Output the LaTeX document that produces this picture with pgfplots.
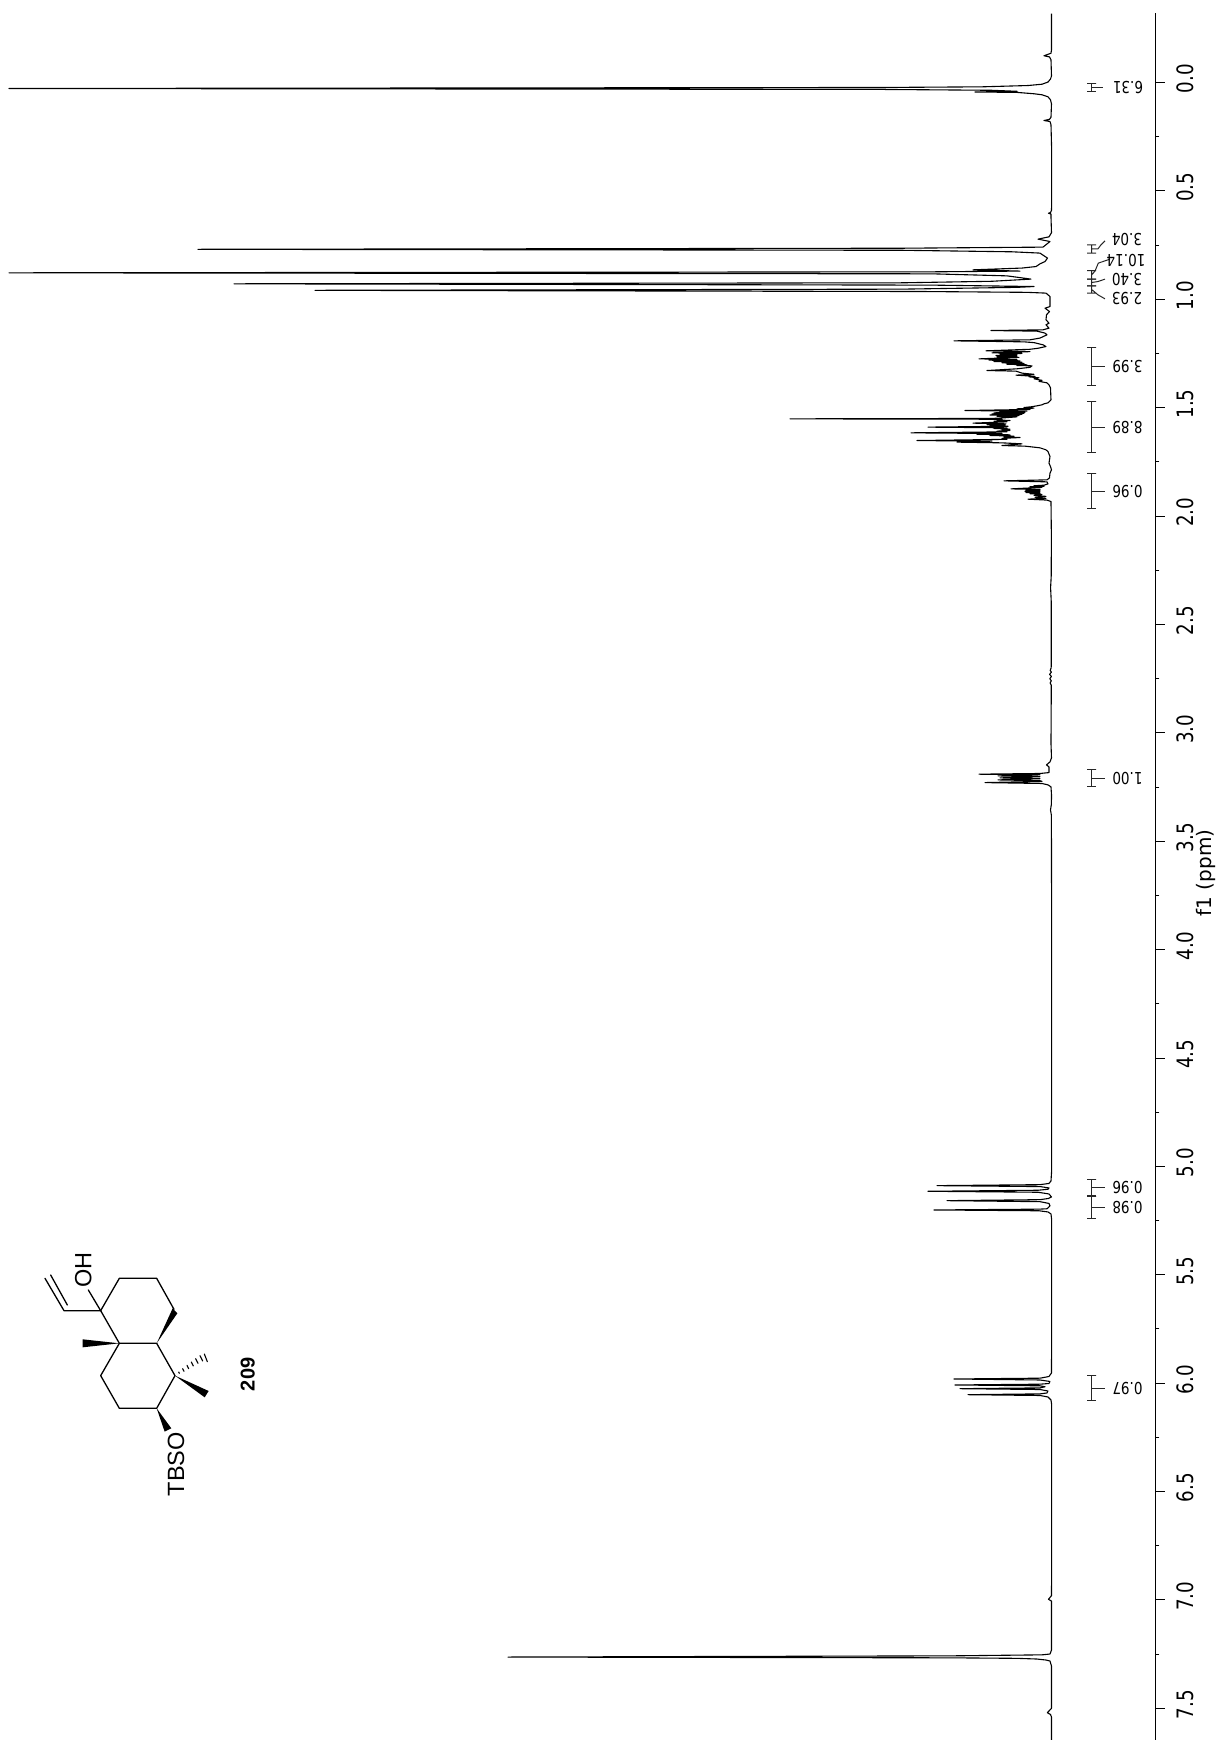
\documentclass[border=0pt]{standalone}
\usepackage{pgfplots}
\usepackage{pgfplotstable}
\usepackage{fontspec}
\pgfplotsset{compat=1.18}
\setmainfont{DejaVu Sans}
\newfontfamily\arialf{Liberation Sans}
\newcommand{\tl}[1]{\fontsize{22.6}{26}\selectfont\scalebox{0.81}[1]{#1}}
\newcommand{\il}[1]{\fontsize{16.5}{20}\selectfont\scalebox{0.82}[1]{#1}}
\pgfplotstableread{
ppm i
-0.318 0.5
-0.15 0.5
-0.135 1
-0.1232 8
-0.118 2.5
-0.105 1
-0.03 0.5
-0.016 1.5
-0.002 4
0.008 10
0.014 24
0.020 70
0.023 170
0.0277 1043
0.032 170
0.036 60
0.0406 35
0.0438 77
0.0457 35
0.052 18
0.0567 10
0.066 4
0.08 1.5
0.0985 0.5
0.16 1
0.17 2.5
0.1753 8
0.18 2
0.195 1
0.30 0.4
0.55 0.3
0.59 0.5
0.60 1.5
0.603 3.5
0.607 1
0.62 1
0.693 0.5
0.712 3
0.7226 14
0.7336 2
0.7595 9
0.7645 150
0.7695 854
0.774 150
0.781 40
0.787 12
0.81 4.5
0.826 7
0.8365 12
0.849 16
0.856 30
0.8642 79
0.87 32
0.8734 120
0.878 1043
0.8826 120
0.892 45
0.907 21
0.917 60
0.924 150
0.9287 818
0.9347 120
0.9412 18
0.945 35
0.9533 150
0.9587 737
0.9642 130
0.968 25
0.9716 6
0.9873 2
1.0335 2
1.041 7
1.0565 2.5
1.0717 5.5
1.0948 6
1.11 3
1.118 6
1.133 3
1.141 9
1.1442 61
1.147 15
1.156 7
1.164 5
1.179 12
1.187 22
1.1918 98
1.1964 28
1.2 18
1.21 9
1.218 6
1.226 14
1.2307 22
1.2378 66
1.2415 22
1.2448 40
1.247 60
1.2498 30
1.253 52
1.2563 35
1.2595 56
1.2622 35
1.2655 55
1.268 33
1.2749 73
1.2775 35
1.2807 63
1.284 32
1.2872 58
1.29 30
1.2932 50
1.2964 28
1.2996 45
1.3024 25
1.3056 35
1.307 20
1.314 22
1.3208 35
1.3287 65
1.3315 36
1.3407 30
1.3462 18
1.35 36
1.3555 17
1.3578 23
1.3624 13
1.367 18
1.374 10
1.3786 13
1.3855 5
1.3947 3
1.4085 1.5
1.4639 1
1.4777 4
1.4823 8
1.4869 10
1.4915 15
1.4961 21
1.4994 28
1.5022 18
1.5054 35
1.5082 22
1.5133 87
1.516 25
1.5188 52
1.5215 27
1.5238 58
1.5262 28
1.5285 60
1.5312 30
1.534 62
1.5368 33
1.54 55
1.5423 35
1.5469 48
1.5497 60
1.5516 262
1.5534 50
1.5562 55
1.5594 42
1.5622 58
1.5654 45
1.5714 79
1.5746 46
1.5774 65
1.5801 47
1.5829 62
1.5857 44
1.5898 124
1.593 45
1.5958 58
1.599 42
1.6023 50
1.605 42
1.6083 55
1.6115 45
1.6161 141
1.6194 50
1.6226 75
1.6253 42
1.6281 62
1.6313 38
1.6346 48
1.6378 32
1.6415 50
1.6461 45
1.6517 135
1.6544 60
1.659 95
1.6623 50
1.6669 30
1.6747 50
1.6775 27
1.6853 12
1.6945 6
1.7024 4
1.7254 2
1.7559 3
1.7716 1.5
1.7867 0.5
1.8021 2
1.8238 2.5
1.833 5
1.8376 48
1.8422 5
1.8515 4
1.8575 8
1.8603 18
1.8626 8
1.8649 22
1.8677 10
1.8746 41
1.8774 12
1.8802 26
1.883 12
1.8857 27
1.8885 12
1.8913 26
1.8941 12
1.8968 22
1.9 10
1.9046 18
1.9092 6
1.9138 17
1.9184 6
1.9221 24
1.9263 5
1.9331 1
2.1 0.6
2.28 0.8
2.33 1.4
2.40 0.7
2.70 0.8
2.712 1.8
2.72 0.6
2.73 2.4
2.74 0.6
2.75 2.2
2.76 0.7
2.77 1.8
2.78 0.7
3.05 1.0
3.1156 0.5
3.134 2
3.1479 5.5
3.1571 3
3.1834 3
3.1875 12
3.1907 73
3.194 12
3.1986 54
3.2023 12
3.2078 52
3.2115 12
3.2171 54
3.2207 12
3.224 10
3.2295 67
3.2336 10
3.2401 4
3.2493 1
3.2863 0.5
3.33 0.6
3.3555 1.5
3.38 0.6
4.0 0.3
4.6 0.3
5.0164 0.3
5.0671 1
5.0786 3
5.0842 12
5.0887 115
5.093 12
5.0994 3
5.1054 4
5.11 14
5.1147 124
5.1192 14
5.1271 3
5.1409 0.5
5.1478 3.5
5.1534 12
5.158 105
5.1626 12
5.1709 3
5.1825 2
5.1954 5
5.1972 13
5.2009 118
5.2046 13
5.2101 4
5.2193 1
5.247 0.3
5.7 0.3
5.9529 0.5
5.9691 3
5.9769 12
5.9806 98
5.9852 12
5.9921 2
6.0014 3
6.0046 12
6.0082 97
6.012 12
6.0166 7
6.0217 12
6.0253 92
6.0291 12
6.0361 4
6.0451 5
6.0493 12
6.053 84
6.0567 12
6.0636 4
6.0775 1
6.1006 0.3
6.8 0.3
6.98 0.5
6.9969 3.5
7.005 0.5
7.2309 0.5
7.2494 2
7.2531 10
7.2577 100
7.2633 544
7.2669 100
7.2692 35
7.2724 15
7.277 6
7.2816 2
7.3048 0.5
7.50 0.5
7.5202 4.7
7.528 1.5
7.54 0.5
7.646 0.5
}\spectrum
\begin{document}
\begin{tikzpicture}[x=1pt,y=1pt]
\path[use as bounding box] (0pt,0pt) rectangle (1221pt,1740pt);
\begin{axis}[
  at={(0pt,0pt)},anchor=south west,
  scale only axis,width=1155.3pt,height=1726.5pt,
  x dir=reverse,y dir=reverse,
  xmin=-103.3,xmax=1052,ymin=-0.3183,ymax=7.646,
  clip=false,
  axis x line=none,
  axis y line*=right,
  axis line style={-,black,line width=1pt},
  ytick={0,0.5,1,1.5,2,2.5,3,3.5,4,4.5,5,5.5,6,6.5,7,7.5},
  yticklabels={\tl{0.0},\tl{0.5},\tl{1.0},\tl{1.5},\tl{2.0},\tl{2.5},\tl{3.0},\tl{3.5},\tl{4.0},\tl{4.5},\tl{5.0},\tl{5.5},\tl{6.0},\tl{6.5},\tl{7.0},\tl{7.5}},
  minor y tick num=1,
  tick align=outside,
  major tick length=9.5pt,minor tick length=4pt,
  tick style={black,line width=1pt},
  yticklabel style={xshift=12pt,yshift=3.7pt,rotate=90,anchor=north,inner sep=0pt,outer sep=0pt},
  ylabel={\fontsize{20}{24}\selectfont f1 (ppm)},
  every axis y label/.style={at={(axis cs:-154,3.646)},rotate=90,anchor=center},
  no markers,
]
\addplot[black,line width=1.1pt,line join=round] table[x=i,y=ppm] {\spectrum};
% integrals
\addplot[black!85,line width=1pt] coordinates {(-35.2,0.006)(-44.2,0.006)(-39.7,0.006)(-39.7,0.0221)(-51,0.0221)(-39.7,0.0221)(-39.7,0.0415)(-35.2,0.0415)(-44.2,0.0415)};
\addplot[black!85,line width=1pt] coordinates {(-35.2,0.7488)(-44.2,0.7488)(-39.7,0.7488)(-39.7,0.7672)(-46,0.7672)(-49,0.7488)(-53,0.7303)(-49,0.7488)(-46,0.7672)(-39.7,0.7672)(-39.7,0.7871)(-35.2,0.7871)(-44.2,0.7871)};
\addplot[black!85,line width=1pt] coordinates {(-35.2,0.8673)(-44.2,0.8673)(-39.7,0.8673)(-39.7,0.8872)(-43,0.8700)(-46.3,0.8333)(-58,0.8148)(-46.3,0.8333)(-43,0.87)(-39.7,0.8872)(-39.7,0.9071)(-35.2,0.9071)(-44.2,0.9071)};
\addplot[black!85,line width=1pt] coordinates {(-35.2,0.9071)(-44.2,0.9071)(-39.7,0.9071)(-39.7,0.9227)(-46,0.9181)(-53,0.907)(-46,0.9181)(-39.7,0.9227)(-39.7,0.9379)(-35.2,0.9379)(-44.2,0.9379)};
\addplot[black!85,line width=1pt] coordinates {(-35.2,0.9379)(-44.2,0.9379)(-39.7,0.9379)(-39.7,0.955)(-46,0.9795)(-53,0.998)(-46,0.9795)(-39.7,0.955)(-39.7,0.9716)(-35.2,0.9716)(-44.2,0.9716)};
\addplot[black!85,line width=1pt] coordinates {(-35.2,1.2226)(-44.2,1.2226)(-39.7,1.2226)(-39.7,1.3116)(-53,1.3116)(-39.7,1.3116)(-39.7,1.3993)(-35.2,1.3993)(-44.2,1.3993)};
\addplot[black!85,line width=1pt] coordinates {(-35.2,1.4731)(-44.2,1.4731)(-39.7,1.4731)(-39.7,1.5898)(-53,1.5898)(-39.7,1.5898)(-39.7,1.707)(-35.2,1.707)(-44.2,1.707)};
\addplot[black!85,line width=1pt] coordinates {(-35.2,1.8021)(-44.2,1.8021)(-39.7,1.8021)(-39.7,1.8851)(-53,1.8851)(-39.7,1.8851)(-39.7,1.9668)(-35.2,1.9668)(-44.2,1.9668)};
\addplot[black!85,line width=1pt] coordinates {(-35.2,3.1709)(-44.2,3.1709)(-39.7,3.1709)(-39.7,3.2092)(-53,3.2092)(-39.7,3.2092)(-39.7,3.248)(-35.2,3.248)(-44.2,3.248)};
\addplot[black!85,line width=1pt] coordinates {(-35.2,5.0625)(-44.2,5.0625)(-39.7,5.0625)(-39.7,5.0994)(-53,5.0994)(-39.7,5.0994)(-39.7,5.1363)(-35.2,5.1363)(-44.2,5.1363)};
\addplot[black!85,line width=1pt] coordinates {(-35.2,5.1394)(-44.2,5.1394)(-39.7,5.1394)(-39.7,5.1917)(-53,5.1917)(-39.7,5.1917)(-39.7,5.2411)(-35.2,5.2411)(-44.2,5.2411)};
\addplot[black!85,line width=1pt] coordinates {(-35.2,5.9634)(-44.2,5.9634)(-39.7,5.9634)(-39.7,6.0235)(-53,6.0235)(-39.7,6.0235)(-39.7,6.0819)(-35.2,6.0819)(-44.2,6.0819)};
\node[rotate=180,inner sep=0pt] at (axis cs:-76,0.0221) {\il{6.31}};
\node[rotate=180,inner sep=0pt] at (axis cs:-75,0.7256) {\il{3.04}};
\node[rotate=180,inner sep=0pt] at (axis cs:-74,0.8212) {\il{10.14}};
\node[rotate=180,inner sep=0pt] at (axis cs:-75,0.907) {\il{3.40}};
\node[rotate=180,inner sep=0pt] at (axis cs:-75,0.998) {\il{2.93}};
\node[rotate=180,inner sep=0pt] at (axis cs:-75.5,1.3116) {\il{3.99}};
\node[rotate=180,inner sep=0pt] at (axis cs:-75.5,1.5898) {\il{8.89}};
\node[rotate=180,inner sep=0pt] at (axis cs:-75.5,1.8851) {\il{0.96}};
\node[rotate=180,inner sep=0pt] at (axis cs:-75.5,3.2092) {\il{1.00}};
\node[rotate=180,inner sep=0pt] at (axis cs:-75.5,5.0994) {\il{0.96}};
\node[rotate=180,inner sep=0pt] at (axis cs:-75.5,5.1917) {\il{0.98}};
\node[rotate=180,inner sep=0pt] at (axis cs:-75.5,6.0235) {\il{0.97}};
\end{axis}
% structure, in zoom-crop units
\begin{scope}[x=0.33333pt,y=-0.33333pt,shift={(30pt,510pt)},line width=1.3pt,line join=round,line cap=round]
\draw (212,242)--(268,145)--(380,145)--(432,238);
\draw (380,340)--(268,340)--(212,242);
\draw (268,340)--(212,437)--(268,535)--(380,535)--(435,437)--(380,340);
\fill (380,340)--(442,250)--(428,235)--cycle;
\fill (268,340)--(158,328)--(158,352)--cycle;
\fill (435,437)--(536,483)--(524,502)--cycle;
\fill (380,535)--(424,595)--(404,605)--cycle;
\draw (212,242)--(102,242)--(45,145);
\draw (112,225)--(62,135);
\draw (212,242)--(175,180);
\draw[line width=1.1pt] (448,430)--(446,426) (462,424)--(458,416) (476,416)--(471,406) (490,408)--(484,396) (504,400)--(497,386) (518,393)--(510,377) (532,395)--(523,372);
\node[rotate=90,inner sep=0pt] at (160,120) {\arialf\fontsize{23.5}{26}\selectfont OH};
\node[rotate=90,inner sep=0pt] at (438,703) {\arialf\fontsize{23.5}{26}\selectfont TBSO};
\node[rotate=90,inner sep=0pt] at (653,433) {\arialf\bfseries\fontsize{20}{24}\selectfont 209};
\end{scope}
\end{tikzpicture}
\end{document}
